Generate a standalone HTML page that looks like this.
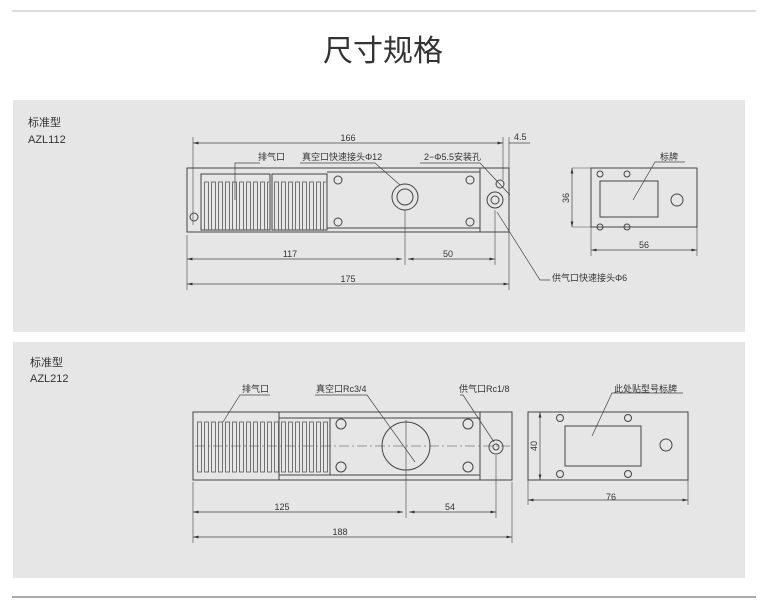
<!DOCTYPE html>
<html><head><meta charset="utf-8"><style>
body{margin:0;background:#fff;width:768px;height:614px;overflow:hidden}
svg{display:block}
text{font-family:"Liberation Sans","Noto Sans CJK SC",sans-serif;fill:#333}
</style></head><body>
<svg width="768" height="614" viewBox="0 0 768 614" xmlns="http://www.w3.org/2000/svg">
<defs>
<pattern id="slot" x="0" y="0" width="7" height="60" patternUnits="userSpaceOnUse">
<rect x="1.5" y="2" width="4" height="50" fill="none" stroke="#555" stroke-width="0.8"/>
</pattern>
<marker id="a" markerWidth="8" markerHeight="6" refX="8" refY="3" orient="auto-start-reverse"><path d="M0,1 L8,3 L0,5z" fill="#333"/></marker>
</defs>
<line x1="12" y1="11" x2="756" y2="11" stroke="#bbb"/>
<line x1="12" y1="597" x2="756" y2="597" stroke="#555"/>
<text x="383" y="61" font-size="30" text-anchor="middle" fill="#222">尺寸规格</text>
<rect x="13" y="100" width="732" height="232" fill="#e6e6e6"/>
<rect x="13" y="342" width="732" height="236" fill="#e6e6e6"/>
<text x="28" y="126" font-size="11">标准型</text>
<text x="28" y="143" font-size="11">AZL112</text>
<text x="30" y="366" font-size="11">标准型</text>
<text x="30" y="382" font-size="11">AZL212</text>

<g stroke="#444" fill="none" stroke-width="1">
<!-- top body -->
<rect x="187" y="168" width="322" height="64"/>
<line x1="480" y1="168" x2="480" y2="232"/>
<rect x="201" y="174" width="69" height="56"/>
<rect x="272" y="174" width="55" height="56"/>
<line x1="327" y1="172" x2="480" y2="172"/><line x1="327" y1="228" x2="480" y2="228"/>
<circle cx="338" cy="180" r="4"/><circle cx="338" cy="222" r="4"/>
<circle cx="470" cy="180" r="4"/><circle cx="470" cy="222" r="4"/>
<circle cx="405" cy="197" r="13"/><circle cx="405" cy="197" r="8"/>
<circle cx="495" cy="200" r="8"/><circle cx="495" cy="200" r="4"/>
<circle cx="194" cy="217" r="4"/><circle cx="500" cy="184" r="4"/>
<!-- top dims -->
<line x1="193" y1="137" x2="193" y2="225" stroke-width="0.6"/>
<line x1="503" y1="137" x2="503" y2="180" stroke-width="0.6"/>
<line x1="509" y1="137" x2="509" y2="290" stroke-width="0.6"/>
<line x1="193" y1="143" x2="503" y2="143" marker-start="url(#a)" marker-end="url(#a)" stroke-width="0.7"/>
<line x1="509" y1="143" x2="530" y2="143" stroke-width="0.7"/>
<line x1="187" y1="235" x2="187" y2="290" stroke-width="0.6"/>
<line x1="405" y1="210" x2="405" y2="265" stroke-width="0.6"/>
<line x1="495" y1="210" x2="495" y2="265" stroke-width="0.6"/>
<line x1="187" y1="259" x2="402" y2="259" marker-start="url(#a)" marker-end="url(#a)" stroke-width="0.7"/>
<line x1="408" y1="259" x2="495" y2="259" marker-start="url(#a)" marker-end="url(#a)" stroke-width="0.7"/>
<line x1="187" y1="284" x2="509" y2="284" marker-start="url(#a)" marker-end="url(#a)" stroke-width="0.7"/>
<!-- leaders -->
<polyline points="260,163 235,163 235,200" stroke-width="0.7"/>
<polyline points="300,163 375,163 400,185" stroke-width="0.7"/>
<polyline points="420,163 480,163 510,195" stroke-width="0.7"/>
<polyline points="497,212 540,280 550,280" stroke-width="0.7"/>
<!-- top side view -->
<rect x="591" y="168" width="106" height="59"/>
<rect x="600" y="181" width="58" height="36"/>
<circle cx="677" cy="200" r="6"/>
<circle cx="600" cy="174" r="3"/><circle cx="627" cy="174" r="3"/>
<circle cx="600" cy="227" r="3"/><circle cx="627" cy="227" r="3"/>
<polyline points="685,162 655,162 633,200" stroke-width="0.7"/>
<line x1="572" y1="168" x2="591" y2="168" stroke-width="0.6"/><line x1="572" y1="227" x2="591" y2="227" stroke-width="0.6"/>
<line x1="572" y1="168" x2="572" y2="227" marker-start="url(#a)" marker-end="url(#a)" stroke-width="0.7"/>
<line x1="591" y1="227" x2="591" y2="256" stroke-width="0.6"/><line x1="697" y1="227" x2="697" y2="256" stroke-width="0.6"/>
<line x1="591" y1="250" x2="697" y2="250" marker-start="url(#a)" marker-end="url(#a)" stroke-width="0.7"/>

<!-- bottom body -->
<rect x="193" y="412" width="319" height="68"/>
<rect x="193" y="412" width="86" height="68"/>
<line x1="279" y1="418" x2="330" y2="418"/><line x1="279" y1="475" x2="330" y2="475"/>
<rect x="330" y="418" width="150" height="57"/>
<line x1="480" y1="412" x2="480" y2="480"/>
<circle cx="341" cy="424" r="5"/><circle cx="341" cy="467" r="5"/>
<circle cx="468" cy="424" r="5"/><circle cx="468" cy="467" r="5"/>
<circle cx="406" cy="446" r="24"/>
<circle cx="496" cy="447" r="7"/><circle cx="496" cy="447" r="3"/>
<line x1="195" y1="446" x2="510" y2="446" stroke-dasharray="10 3 2 3" stroke-width="0.6"/>
<line x1="406" y1="420" x2="406" y2="518" stroke-width="0.6"/>
<line x1="496" y1="455" x2="496" y2="518" stroke-width="0.6"/>
<line x1="193" y1="482" x2="193" y2="543" stroke-width="0.6"/>
<line x1="512" y1="482" x2="512" y2="543" stroke-width="0.6"/>
<line x1="193" y1="512" x2="403" y2="512" marker-start="url(#a)" marker-end="url(#a)" stroke-width="0.7"/>
<line x1="409" y1="512" x2="496" y2="512" marker-start="url(#a)" marker-end="url(#a)" stroke-width="0.7"/>
<line x1="193" y1="537" x2="512" y2="537" marker-start="url(#a)" marker-end="url(#a)" stroke-width="0.7"/>
<polyline points="270,395 240,395 223,422" stroke-width="0.7"/>
<polyline points="315,395 367,395 415,462" stroke-width="0.7"/>
<polyline points="460,395 463,395 494,442" stroke-width="0.7"/>
<!-- bottom side view -->
<rect x="528" y="412" width="160" height="68"/>
<rect x="565" y="426" width="76" height="40"/>
<circle cx="666" cy="445" r="6"/>
<circle cx="560" cy="418" r="3.5"/><circle cx="628" cy="418" r="3.5"/>
<circle cx="560" cy="474" r="3.5"/><circle cx="628" cy="474" r="3.5"/>
<polyline points="683,393 612,393 592,436" stroke-width="0.7"/>
<line x1="545" y1="412" x2="528" y2="412" stroke-width="0.6"/><line x1="545" y1="480" x2="528" y2="480" stroke-width="0.6"/>
<line x1="540" y1="412" x2="540" y2="480" marker-start="url(#a)" marker-end="url(#a)" stroke-width="0.7"/>
<line x1="528" y1="480" x2="528" y2="505" stroke-width="0.6"/><line x1="688" y1="480" x2="688" y2="505" stroke-width="0.6"/>
<line x1="528" y1="500" x2="688" y2="500" marker-start="url(#a)" marker-end="url(#a)" stroke-width="0.7"/>
</g>
<rect x="203" y="176" width="66" height="54" fill="url(#slot)"/>
<rect x="274" y="176" width="52" height="54" fill="url(#slot)"/>
<rect x="195" y="416" width="84" height="62" fill="url(#slot)"/>
<rect x="280" y="420" width="49" height="54" fill="url(#slot)"/>

<g font-size="9">
<text x="348" y="141" text-anchor="middle">166</text>
<text x="514" y="140">4.5</text>
<text x="258" y="160">排气口</text>
<text x="302" y="160">真空口快速接头Φ12</text>
<text x="424" y="160">2−Φ5.5安装孔</text>
<text x="290" y="257" text-anchor="middle">117</text>
<text x="448" y="257" text-anchor="middle">50</text>
<text x="348" y="282" text-anchor="middle">175</text>
<text x="552" y="281">供气口快速接头Φ6</text>
<text x="660" y="160">标牌</text>
<text x="644" y="248" text-anchor="middle">56</text>
<text x="569" y="198" transform="rotate(-90 569 198)" text-anchor="middle">36</text>
<text x="242" y="392">排气口</text>
<text x="316" y="392">真空口Rc3/4</text>
<text x="459" y="392">供气口Rc1/8</text>
<text x="614" y="392">此处贴型号标牌</text>
<text x="282" y="510" text-anchor="middle">125</text>
<text x="450" y="510" text-anchor="middle">54</text>
<text x="340" y="535" text-anchor="middle">188</text>
<text x="611" y="500" text-anchor="middle">76</text>
<text x="537" y="446" transform="rotate(-90 537 446)" text-anchor="middle">40</text>
</g>
</svg>
</body></html>
